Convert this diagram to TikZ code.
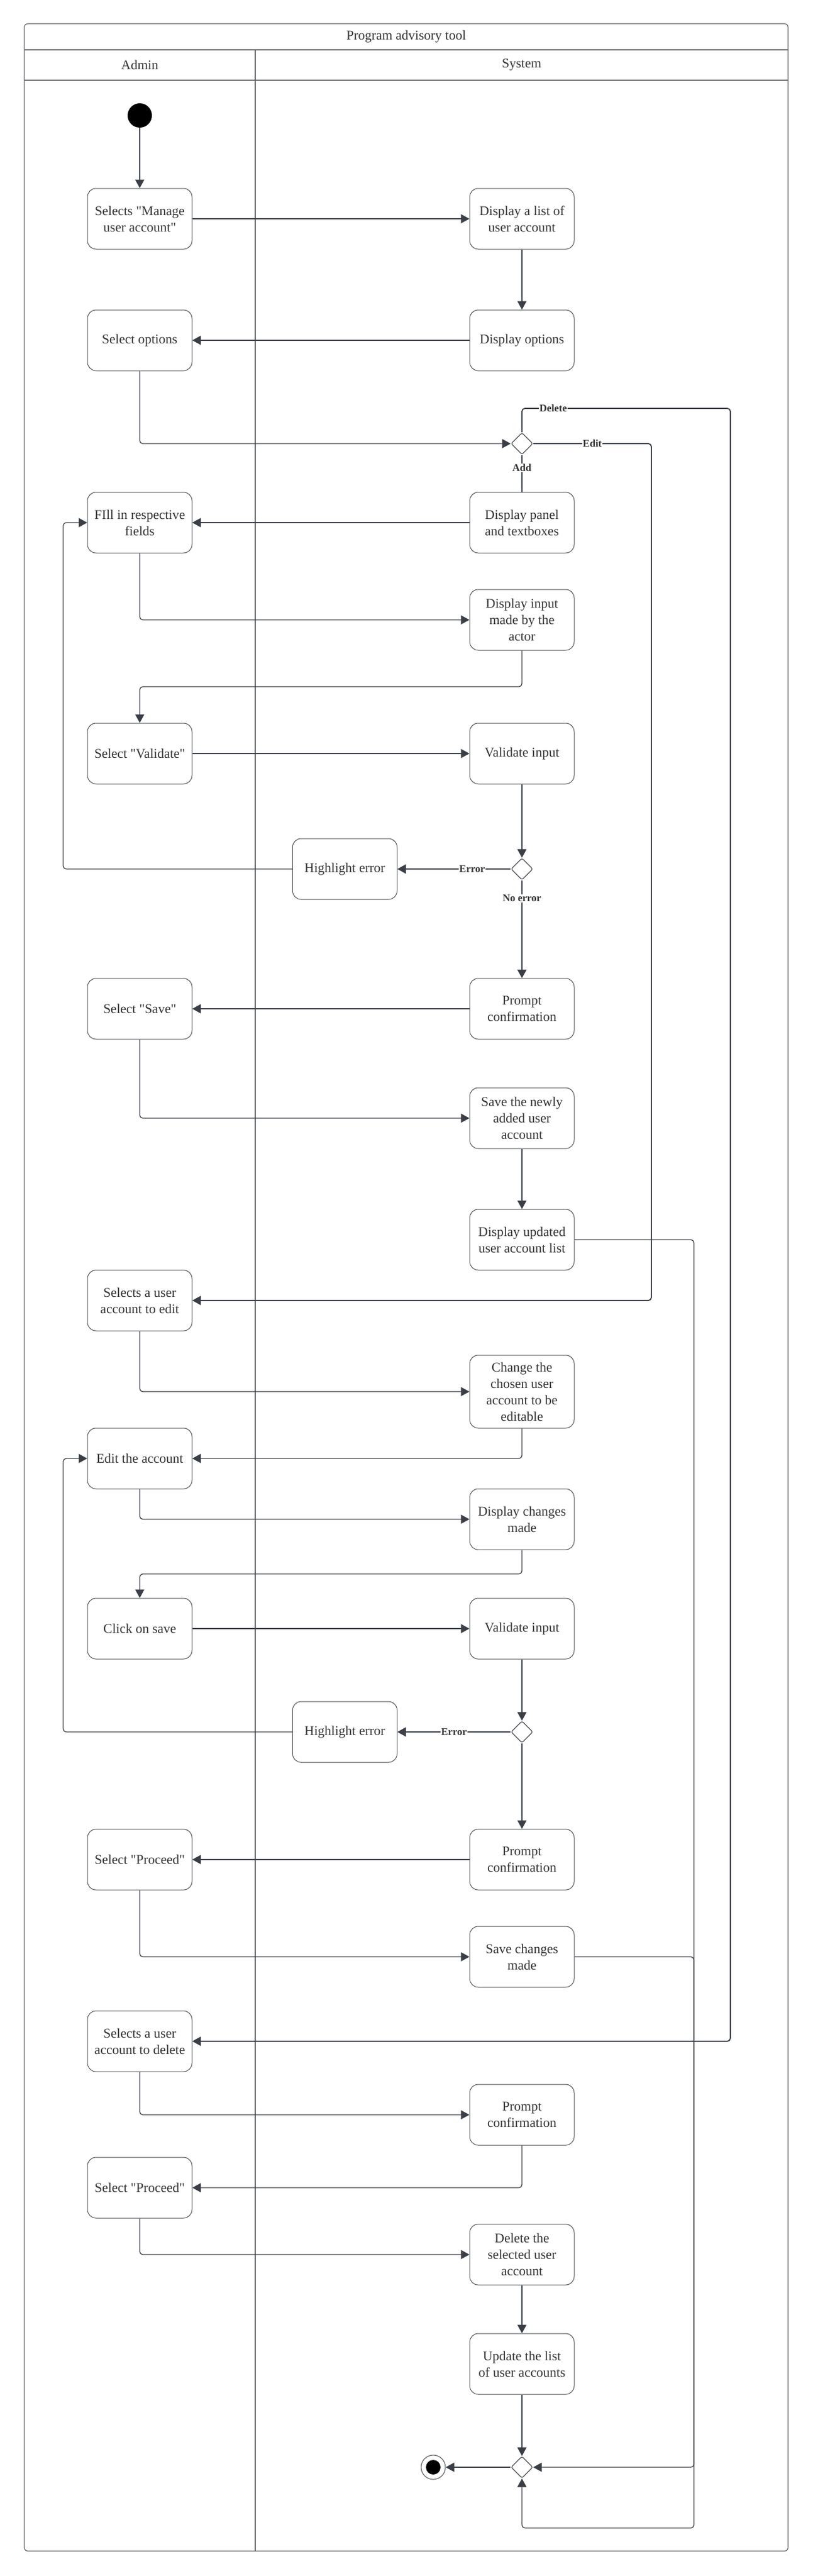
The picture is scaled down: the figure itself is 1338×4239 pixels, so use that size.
\documentclass[tikz,border=0pt]{standalone}
\usepackage{fontspec}
\setmainfont{Liberation Serif}[Ligatures=TeXOff]
\usetikzlibrary{arrows.meta,shapes.geometric}
\definecolor{linec}{HTML}{3A3F47}
\definecolor{boxc}{HTML}{4A4E55}
\definecolor{txtc}{HTML}{333333}
\definecolor{framec}{HTML}{5F6368}
\tikzset{
  box/.style={draw=boxc, line width=1pt, rounded corners=14pt, minimum width=172pt, minimum height=100pt, align=center, text=txtc, font=\fontsize{22}{27}\selectfont, inner sep=0pt},
  tallbox/.style={box, minimum height=120pt},
  dec/.style={draw=boxc, line width=1.2pt, diamond, aspect=1, minimum width=36pt, minimum height=36pt, inner sep=0pt, rounded corners=3pt},
  conn/.style={draw=linec, line width=1.3pt, rounded corners=5pt, -{Triangle[length=14pt,width=15pt]}},
  plain/.style={draw=linec, line width=1.3pt, rounded corners=5pt},
  heavy/.style={line width=2.2pt},
  lbl/.style={font=\bfseries\fontsize{17}{20}\selectfont, fill=white, inner sep=1pt, text=txtc},
  head/.style={text=txtc, font=\fontsize{22}{27}\selectfont}
}
\begin{document}
\begin{tikzpicture}[x=1pt,y=-1pt]
\useasboundingbox (0,0) rectangle (1338,4239);
% frame
\draw[framec, line width=1.2pt, rounded corners=6pt] (40,39) rectangle (1297,4198);
\draw[framec, line width=1.2pt] (40,82) -- (1297,82);
\draw[framec, line width=1.2pt] (40,132) -- (1297,132);
\draw[framec, line width=1.2pt] (420,82) -- (420,4198);
\node[head] (title) at (668.5,60) {Program advisory tool};
\node[head] (admin) at (230,107) {Admin};
\node[head] (system) at (858.5,107) {System};

% nodes
\node[circle, fill=black, minimum size=40pt, inner sep=0pt] (start) at (230,190) {};
\node[box] (a1) at (230,360) {Selects "Manage\\user account"};
\node[box] (s1) at (859,360) {Display a list of\\user account};
\node[box] (s2) at (859,560) {Display options};
\node[box] (a2) at (230,560) {Select options};
\node[dec] (d1) at (859,730) {};
\node[box] (s3) at (859,860) {Display panel\\and textboxes};
\node[box] (a3) at (230,860) {FIll in respective\\fields};
\node[box] (s4) at (859,1020) {Display input\\made by the\\actor};
\node[box] (a4) at (230,1240) {Select "Validate"};
\node[box] (s5) at (859,1240) {Validate input};
\node[dec] (d2) at (859,1430) {};
\node[box] (h1) at (567.5,1430) {Highlight error};
\node[box] (s6) at (859,1660) {Prompt\\confirmation};
\node[box] (a5) at (230,1660) {Select "Save"};
\node[box] (s7) at (859,1840) {Save the newly\\added user\\account};
\node[box] (s8) at (859,2040) {Display updated\\user account list};
\node[box] (a6) at (230,2140) {Selects a user\\account to edit};
\node[tallbox] (s9) at (859,2290) {Change the\\chosen user\\account to be\\editable};
\node[box] (a7) at (230,2400) {Edit the account};
\node[box] (s10) at (859,2500) {Display changes\\made};
\node[box] (a8) at (230,2680) {Click on save};
\node[box] (s11) at (859,2680) {Validate input};
\node[dec] (d3) at (859,2850) {};
\node[box] (h2) at (567.5,2850) {Highlight error};
\node[box] (s12) at (859,3060) {Prompt\\confirmation};
\node[box] (a9) at (230,3060) {Select "Proceed"};
\node[box] (s13) at (859,3220) {Save changes\\made};
\node[box] (a10) at (230,3359) {Selects a user\\account to delete};
\node[box] (s14) at (859,3480) {Prompt\\confirmation};
\node[box] (a11) at (230,3600) {Select "Proceed"};
\node[box] (s15) at (859,3710) {Delete the\\selected user\\account};
\node[box] (s16) at (859,3890) {Update the list\\of user accounts};
\node[dec] (d4) at (859,4060) {};
\node[circle, draw=boxc, line width=1pt, minimum size=40pt, inner sep=0pt,
  path picture={\fill[black] (path picture bounding box.center) circle (12pt);}] (end) at (713,4060) {};

% connectors
\draw[conn] (start) -- (a1);
\draw[conn] (a1) -- (s1);
\draw[conn] (s1) -- (s2);
\draw[conn] (s2) -- (a2);
\draw[conn] (a2.south) |- (d1.west);
\draw[conn, line width=1.8pt] (d1.north) -- (859,672) -- node[lbl, pos=0.15] {Delete} (1202,672) -- (1202,3359) -- (a10.east);
\draw[conn, line width=1.8pt] (d1.east) -- node[lbl] {Edit} (1072,730) -- (1072,2140) -- (a6.east);
\draw[plain, heavy] (d1.south) -- node[lbl, pos=0.35] {Add} (s3.north);
\draw[conn] (s3) -- (a3);
\draw[conn] (a3.south) |- (s4.west);
\draw[conn] (s4.south) -- (859,1130) -| (a4.north);
\draw[conn] (a4) -- (s5);
\draw[conn] (s5) -- (d2);
\draw[conn, heavy] (d2.west) -- node[lbl, pos=0.34] {Error} (h1.east);
\draw[conn, heavy] (d2.south) -- node[lbl, pos=0.185] {No error} (s6.north);
\draw[conn] (h1.west) -- (104,1430) |- (a3.west);
\draw[conn] (s6) -- (a5);
\draw[conn] (a5.south) |- (s7.west);
\draw[conn] (s7) -- (s8);
\draw[conn] (s8.east) -- (1142,2040) |- (d4.east);
\draw[conn] (a6.south) |- (s9.west);
\draw[conn] (s9.south) |- (a7.east);
\draw[conn] (a7.south) |- (s10.west);
\draw[conn] (s10.south) -- (859,2590) -| (a8.north);
\draw[conn] (a8) -- (s11);
\draw[conn] (s11) -- (d3);
\draw[conn, heavy] (d3.west) -- node[lbl, pos=0.5] {Error} (h2.east);
\draw[conn] (d3.south) -- (s12.north);
\draw[conn] (h2.west) -- (104,2850) |- (a7.west);
\draw[conn] (s12) -- (a9);
\draw[conn] (a9.south) |- (s13.west);
\draw[conn] (s13.east) -- (1142,3220) -- (1142,4160) -| (d4.south);
\draw[conn] (a10.south) |- (s14.west);
\draw[conn] (s14.south) |- (a11.east);
\draw[conn] (a11.south) |- (s15.west);
\draw[conn] (s15) -- (s16);
\draw[conn] (s16) -- (d4);
\draw[conn] (d4.west) -- (end);
\end{tikzpicture}
\end{document}
